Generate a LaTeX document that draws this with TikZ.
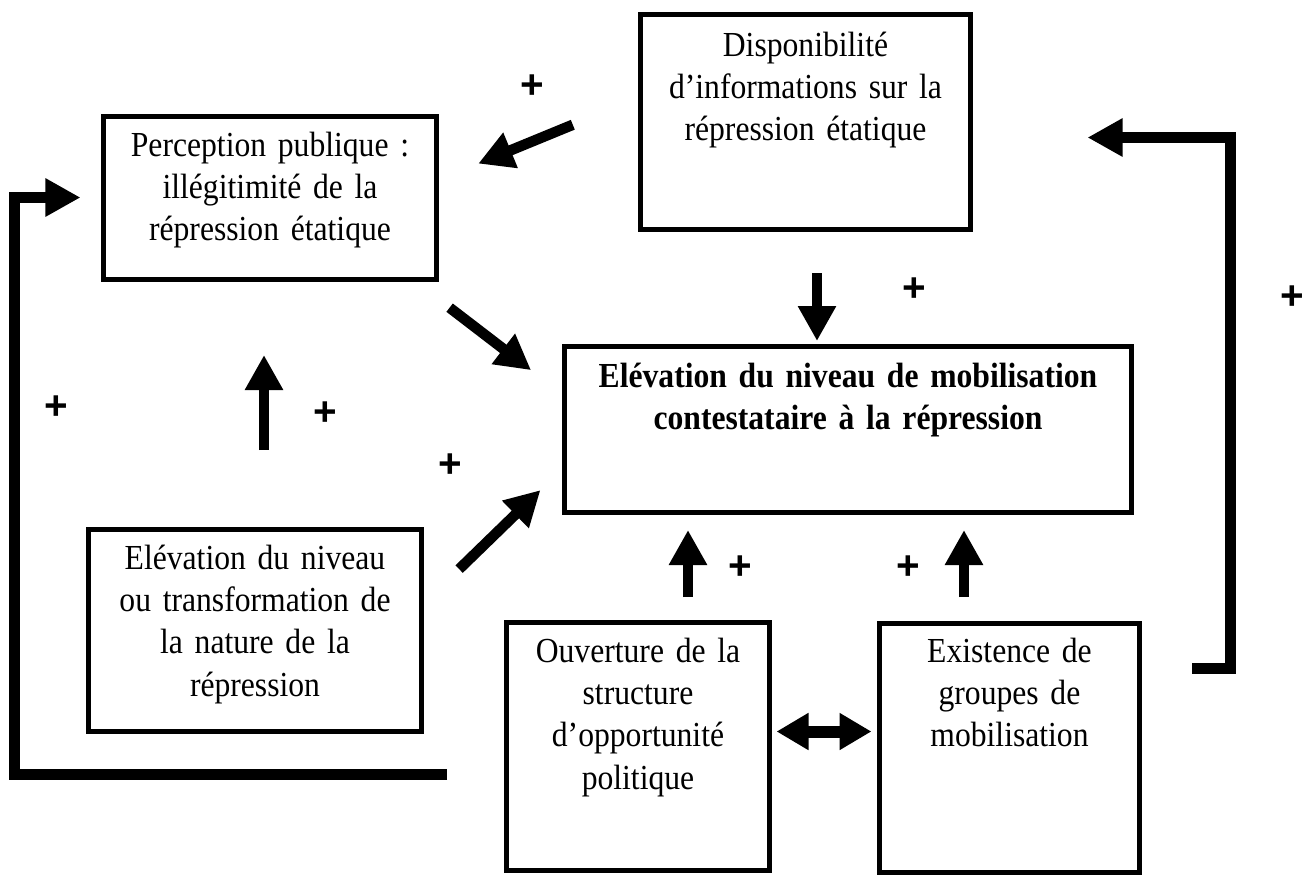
\documentclass[tikz,border=0pt]{standalone}
\usepackage{fontspec}
\setmainfont{Liberation Serif}[FakeStretch=0.9]
\newfontfamily\arialbf{Liberation Sans}
\usetikzlibrary{arrows.meta}

\begin{document}
\begin{tikzpicture}[
    boite/.style={draw, line width=0.05cm, anchor=north, inner sep=0pt, align=center,
      font=\fontsize{10}{12}\selectfont},
    fleche/.style={line width=0.105cm, -{Triangle[length=0.35cm,width=0.36cm]}},
    boucle/.style={line width=0.11cm, -{Triangle[length=0.35cm,width=0.36cm]}},
    signe/.style={font=\arialbf\bfseries\fontsize{11.5}{11.5}\selectfont, inner sep=0pt}
  ]
  \useasboundingbox (0,0) rectangle (13.04,-8.74);

%the boxes
    \node[boite, minimum width=3.33cm, text width=3.2cm, text height=0.405cm, text depth=1.225cm]
      (perc) at (2.70,-1.135) {Perception publique :\\ illégitimité de la\\ répression étatique};
    \node[boite, minimum width=3.30cm, text width=3.2cm, text height=0.425cm, text depth=1.725cm]
      (dispo) at (8.055,-0.115) {Disponibilité\\ d’informations sur la\\ répression étatique};
    \node[boite, font=\fontsize{10}{12}\selectfont\bfseries, minimum width=5.67cm, text width=5.5cm,
      text height=0.415cm, text depth=1.245cm]
      (mobil) at (8.48,-3.435) {Elévation du niveau de mobilisation\\ contestataire à la répression};
    \node[boite, minimum width=3.33cm, text width=3.2cm, text height=0.405cm, text depth=1.615cm]
      (repr) at (2.55,-5.265) {Elévation du niveau\\ ou transformation de\\ la nature de la\\ répression};
    \node[boite, minimum width=2.63cm, text width=2.5cm, text height=0.405cm, text depth=2.075cm]
      (ouvert) at (6.38,-6.195) {Ouverture de la\\ structure\\ d’opportunité\\ politique};
    \node[boite, minimum width=2.60cm, text width=2.5cm, text height=0.395cm, text depth=2.095cm]
      (groupes) at (10.095,-6.205) {Existence de\\ groupes de\\ mobilisation};

%the arrows between the boxes
    \draw[fleche, shorten <=0.705cm, shorten >=0.424cm] (dispo.172) -- (perc.6);
    \draw[fleche, shorten <=0.43cm, shorten >=0.39cm] (perc.-30) -- (mobil.173);
    \draw[fleche, shorten <=0.765cm, shorten >=0.735cm]
      ([xshift=0.09cm]repr.north) -- ([xshift=0.09cm]repr.north |- perc.south);
    \draw[fleche, shorten <=0.49cm, shorten >=0.30cm] (repr.9) -- (mobil.188);
    \draw[fleche, shorten <=0.415cm, shorten >=0.025cm]
      ([xshift=0.115cm]dispo.south) -- ([xshift=0.115cm]dispo.south |- mobil.north);
    \draw[fleche, shorten <=0.225cm, shorten >=0.155cm]
      ([xshift=0.5cm]ouvert.north) -- ([xshift=0.5cm]ouvert.north |- mobil.south);
    \draw[fleche, shorten <=0.235cm, shorten >=0.155cm]
      ([xshift=-0.455cm]groupes.north) -- ([xshift=-0.455cm]groupes.north |- mobil.south);
    \draw[line width=0.12cm, {Triangle[length=0.32cm,width=0.35cm]}-{Triangle[length=0.32cm,width=0.35cm]},
      shorten <=0.045cm, shorten >=0.055cm]
      ([yshift=0.145cm]ouvert.east) -- ([yshift=0.145cm]ouvert.east -| groupes.west);

%the feedback loops
    \coordinate (gdep) at (4.47,-7.74);
    \coordinate (ddep) at (11.92,-6.68);
    \draw[boucle] (gdep) -- ++(-4.33,0) |- ([xshift=-0.205cm]perc.west);
    \draw[boucle] (ddep) -- ++(0.38,0) |- ([xshift=1.145cm,yshift=-0.16cm]dispo.east);

%the signs
    \node[signe] (s1) at (5.32,-0.87) {+};
    \node[signe] (s2) at (0.56,-4.08) {+};
    \node[signe] (s3) at (3.25,-4.14) {+};
    \node[signe] (s4) at (4.50,-4.66) {+};
    \node[signe] (s5) at (9.14,-2.90) {+};
    \node[signe] (s6) at (12.92,-2.98) {+};
    \node[signe] (s7) at (7.40,-5.68) {+};
    \node[signe] (s8) at (9.08,-5.68) {+};
\end{tikzpicture}
\end{document}
